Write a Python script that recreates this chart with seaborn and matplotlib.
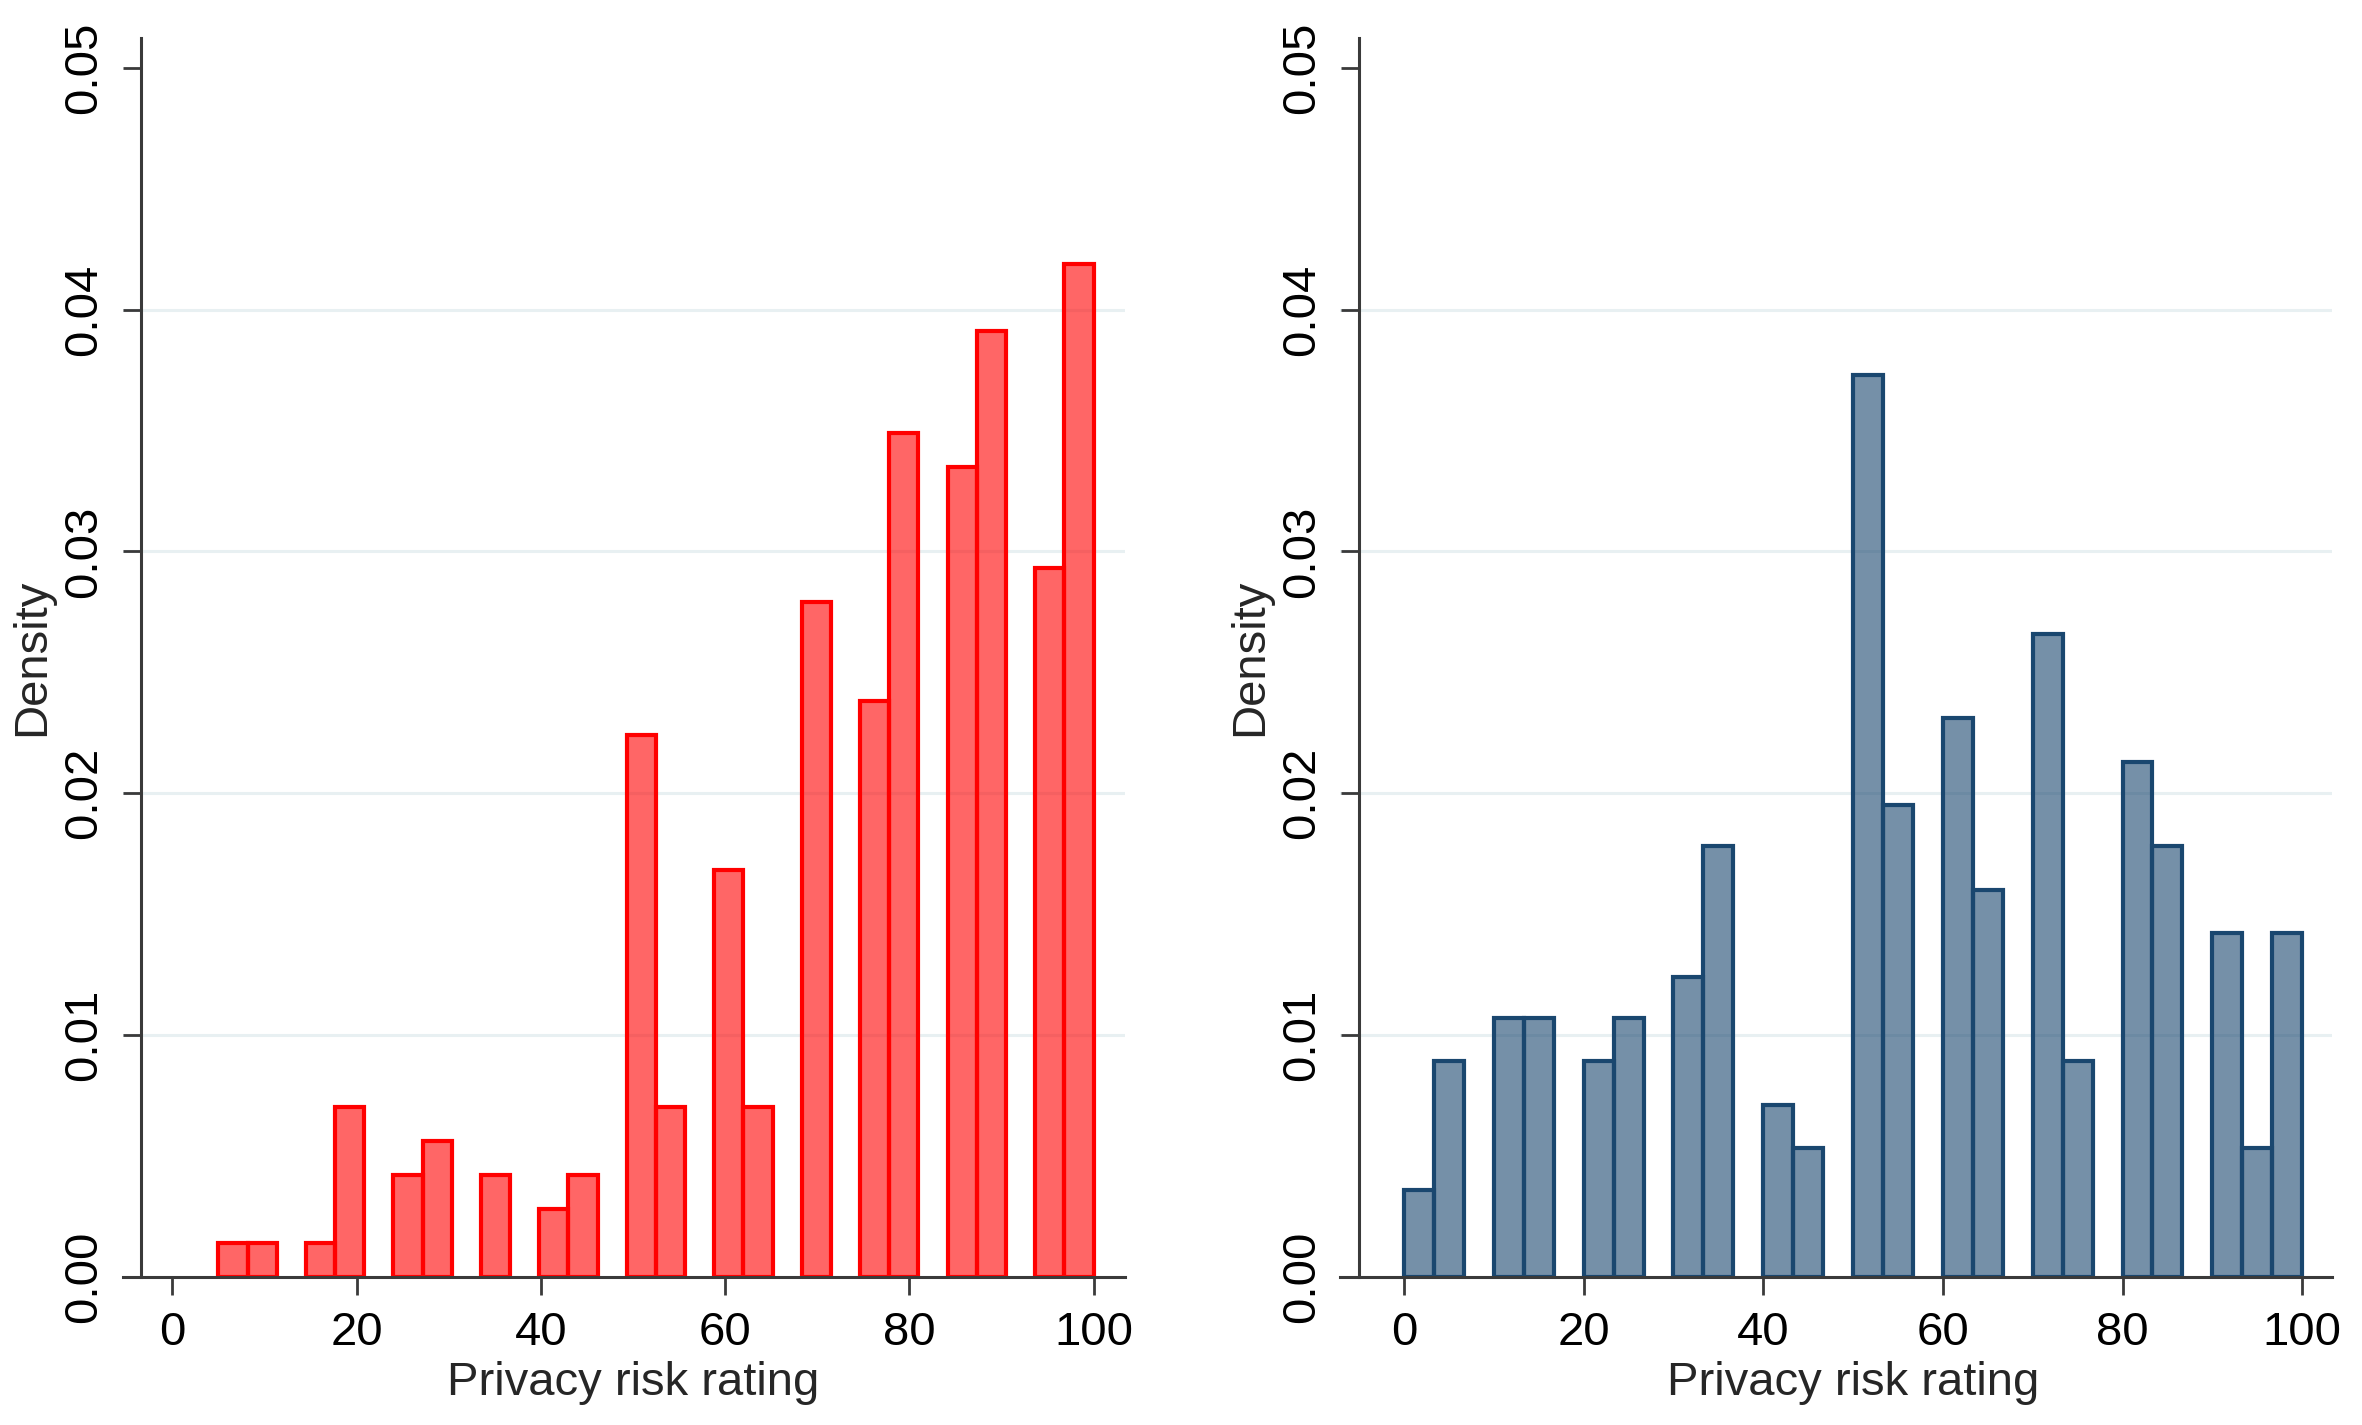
import numpy as np
import pandas as pd
import matplotlib.pyplot as plt
import seaborn as sns
from matplotlib.ticker import FormatStrFormatter

# Left panel: 30 bins from 5 to 100
red_range = (5, 100)
red_density = [0.0014, 0.0014, 0, 0.0014, 0.0070, 0, 0.0042, 0.0056, 0, 0.0042,
               0, 0.0028, 0.0042, 0, 0.0224, 0.0070, 0, 0.0168, 0.0070, 0,
               0.0279, 0, 0.0238, 0.0349, 0, 0.0335, 0.0391, 0, 0.0293, 0.0419]

# Right panel: 30 bins from 0 to 100
blue_range = (0, 100)
blue_density = [0.0036, 0.0089, 0, 0.0107, 0.0107, 0, 0.0089, 0.0107, 0, 0.0124,
                0.0178, 0, 0.0071, 0.0053, 0, 0.0373, 0.0195, 0, 0.0231, 0.0160,
                0, 0.0266, 0.0089, 0, 0.0213, 0.0178, 0, 0.0142, 0.0053, 0.0142]

x_ticks = [0, 20, 40, 60, 80, 100]
y_ticks = [0.00, 0.01, 0.02, 0.03, 0.04, 0.05]

sns.set_style("ticks")
plt.rcParams['font.family'] = ['Liberation Sans', 'DejaVu Sans']

red = (1.0, 0.0, 0.0)
navy = (26 / 255, 71 / 255, 111 / 255)
axis_col = '#3a3a3a'
grid_col = '#e8f0f2'
fs = 17

fig = plt.figure(figsize=(11.81, 7.125), dpi=200)
ax1 = fig.add_axes([0.0521, 0.1042, 0.4242, 0.8691])
ax2 = fig.add_axes([0.5673, 0.1042, 0.4199, 0.8691])

panels = [
    (ax1, red_range, red_density, red, (-5.35, 103.42), -3.4),
    (ax2, blue_range, blue_density, navy, (-7.13, 103.3), -4.98),
]

for ax, rng, dens, col, xlim, spine_x in panels:
    edges = np.linspace(rng[0], rng[1], len(dens) + 1)
    centers = (edges[:-1] + edges[1:]) / 2
    df = pd.DataFrame({'rating': centers, 'density': dens})
    df = df[df['density'] > 0]

    # light grid at the inner y ticks only (none at 0.00 / 0.05)
    for yv in y_ticks[1:-1]:
        ax.axhline(yv, color=grid_col, lw=1.1, zorder=0.5)

    sns.histplot(data=df, x='rating', weights='density', bins=edges.tolist(),
                 stat='count', ax=ax, color=col, linewidth=1.5)

    for bar in ax.patches:
        if bar.get_height() <= 0:
            bar.set_visible(False)
        bar.set_alpha(None)
        bar.set_facecolor(col + (0.6,))
        bar.set_edgecolor(col + (1.0,))
        bar.set_linewidth(1.5)
        bar.set_zorder(1)

    ax.set_xlim(*xlim)
    ax.set_ylim(0, 0.05124)
    ax.set_xticks(x_ticks)
    ax.set_yticks(y_ticks)
    ax.yaxis.set_major_formatter(FormatStrFormatter('%.2f'))
    ax.grid(False)

    for s in ['top', 'right']:
        ax.spines[s].set_visible(False)
    ax.spines['left'].set_position(('data', spine_x))
    for s in ['left', 'bottom']:
        ax.spines[s].set_color(axis_col)
        ax.spines[s].set_linewidth(1.1)

    ax.tick_params(axis='both', which='major', direction='out', length=6.5,
                   width=1.0, color=axis_col, labelcolor='black',
                   labelsize=fs, pad=6)
    for lab in ax.get_yticklabels():
        lab.set_rotation(90)
        lab.set_va('center')

    ax.set_xlabel('Privacy risk rating', fontsize=fs, labelpad=2)
    ax.set_ylabel('Density', fontsize=fs, labelpad=3)
    ax.xaxis.label.set_x((50 - xlim[0]) / (xlim[1] - xlim[0]))

fig.savefig('out.png', dpi=200, facecolor='white')
